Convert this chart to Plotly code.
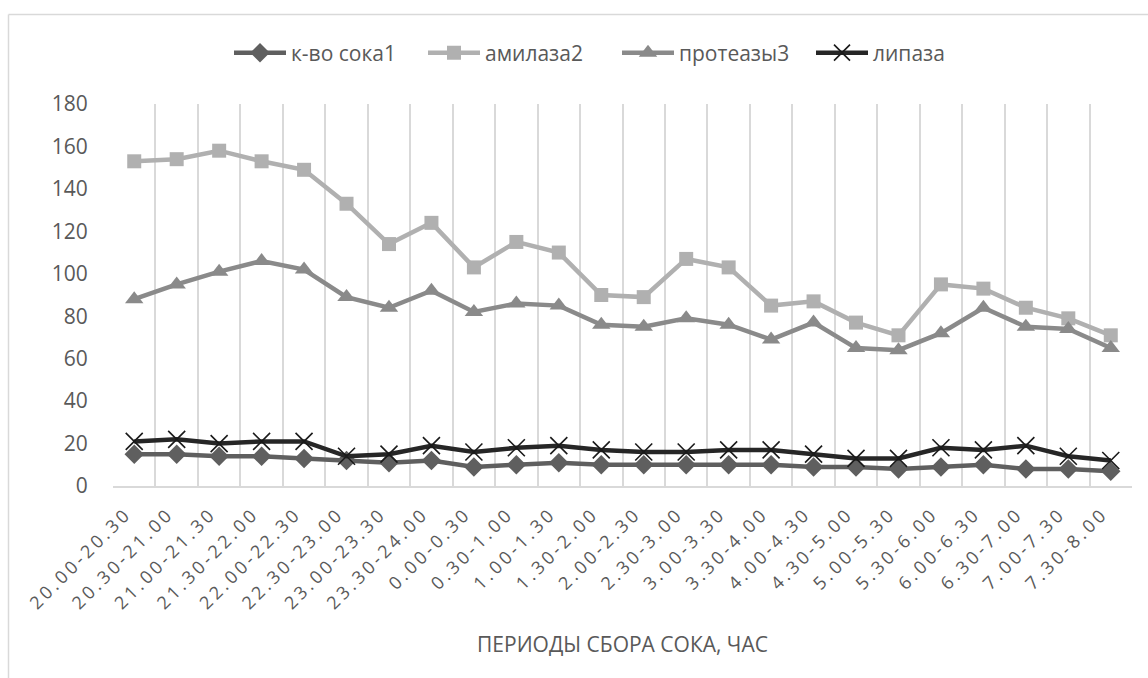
import plotly.graph_objects as go

# Collection periods (hours) and measured values per period
periods = [
    "20.00-20.30", "20.30-21.00", "21.00-21.30", "21.30-22.00", "22.00-22.30",
    "22.30-23.00", "23.00-23.30", "23.30-24.00", "0.00-0.30", "0.30-1.00",
    "1.00-1.30", "1.30-2.00", "2.00-2.30", "2.30-3.00", "3.00-3.30",
    "3.30-4.00", "4.00-4.30", "4.30-5.00", "5.00-5.30", "5.30-6.00",
    "6.00-6.30", "6.30-7.00", "7.00-7.30", "7.30-8.00",
]
juice = [15, 15, 14, 14, 13, 12, 11, 12, 9, 10, 11, 10, 10, 10, 10, 10, 9, 9, 8, 9, 10, 8, 8, 7]
amylase = [153, 154, 158, 153, 149, 133, 114, 124, 103, 115, 110, 90, 89, 107, 103, 85, 87, 77, 71, 95, 93, 84, 79, 71]
protease = [88, 95, 101, 106, 102, 89, 84, 92, 82, 86, 85, 76, 75, 79, 76, 69, 77, 65, 64, 72, 84, 75, 74, 65]
lipase = [21, 22, 20, 21, 21, 14, 15, 19, 16, 18, 19, 17, 16, 16, 17, 17, 15, 13, 13, 18, 17, 19, 14, 12]

y_ticks = [0, 20, 40, 60, 80, 100, 120, 140, 160, 180]

FONT = "Open Sans"
TXT = "#595959"
GRID = "#d9d9d9"

# widely spaced period labels
period_labels = ['<span style="letter-spacing:3.4px">%s</span>' % p for p in periods]

fig = go.Figure()
fig.add_trace(go.Scatter(
    x=periods, y=juice, name="к-во сока1", mode="lines+markers",
    line=dict(color="#5f5f5f", width=4.5),
    marker=dict(symbol="diamond", size=15, color="#5f5f5f"),
))
fig.add_trace(go.Scatter(
    x=periods, y=amylase, name="амилаза2", mode="lines+markers",
    line=dict(color="#b0b0b0", width=4.5),
    marker=dict(symbol="square", size=14, color="#b0b0b0"),
))
fig.add_trace(go.Scatter(
    x=periods, y=protease, name="протеазы3", mode="lines+markers",
    line=dict(color="#8a8a8a", width=4.5),
    marker=dict(symbol="triangle-up", size=16, color="#8a8a8a"),
))
fig.add_trace(go.Scatter(
    x=periods, y=lipase, name="липаза", mode="lines+markers",
    line=dict(color="#262626", width=4.5),
    marker=dict(symbol="x-thin", size=17, color="#1a1a1a",
                line=dict(color="#1a1a1a", width=1.6)),
))

L, R, T, B = 113, 1132, 104, 486
W, H = 1148, 678
pw, ph = R - L, B - T


def px(xp):
    return (xp - L) / pw


def py(yp):
    return (B - yp) / ph


# chart frame (left and top edges)
frame = [
    dict(type="line", xref="paper", yref="paper", x0=px(8.5), x1=px(W + 5),
         y0=py(14.5), y1=py(14.5), line=dict(color=GRID, width=1.5)),
    dict(type="line", xref="paper", yref="paper", x0=px(8.5), x1=px(8.5),
         y0=py(14.5), y1=py(H + 5), line=dict(color=GRID, width=1.5)),
]

fig.update_layout(
    width=W, height=H,
    margin=dict(l=L, r=W - R, t=T, b=H - B, autoexpand=False),
    paper_bgcolor="white", plot_bgcolor="white",
    font=dict(family=FONT, color=TXT, size=20),
    showlegend=True,
    legend=dict(orientation="h", x=px(229), xanchor="left", xref="paper",
                y=py(53), yanchor="middle", yref="paper",
                font=dict(size=21, color=TXT), itemwidth=52,
                entrywidth=127, entrywidthmode="pixels",
                traceorder="normal"),
    shapes=frame,
    xaxis=dict(
        type="category", tickson="boundaries", automargin=False,
        tickmode="array", tickvals=periods, ticktext=period_labels,
        showgrid=True, gridcolor=GRID, gridwidth=2,
        showline=True, linecolor=GRID, linewidth=2,
        ticks="outside", ticklen=12, tickcolor="rgba(0,0,0,0)", tickangle=-45,
        ticklabelshift=-8, ticklabelstandoff=8,
        tickfont=dict(size=18, color=TXT),
        range=[-0.5, len(periods) - 0.5],
        title=dict(text="ПЕРИОДЫ СБОРА СОКА, ЧАС", font=dict(size=21, color=TXT),
                   standoff=24),
    ),
    yaxis=dict(
        range=[0, 180], tickvals=y_ticks, showgrid=False, zeroline=False,
        showline=False, ticks="outside", ticklen=20, tickcolor="rgba(0,0,0,0)",
        tickfont=dict(size=21, color=TXT), automargin=False,
    ),
)

fig.write_html("out.html")
